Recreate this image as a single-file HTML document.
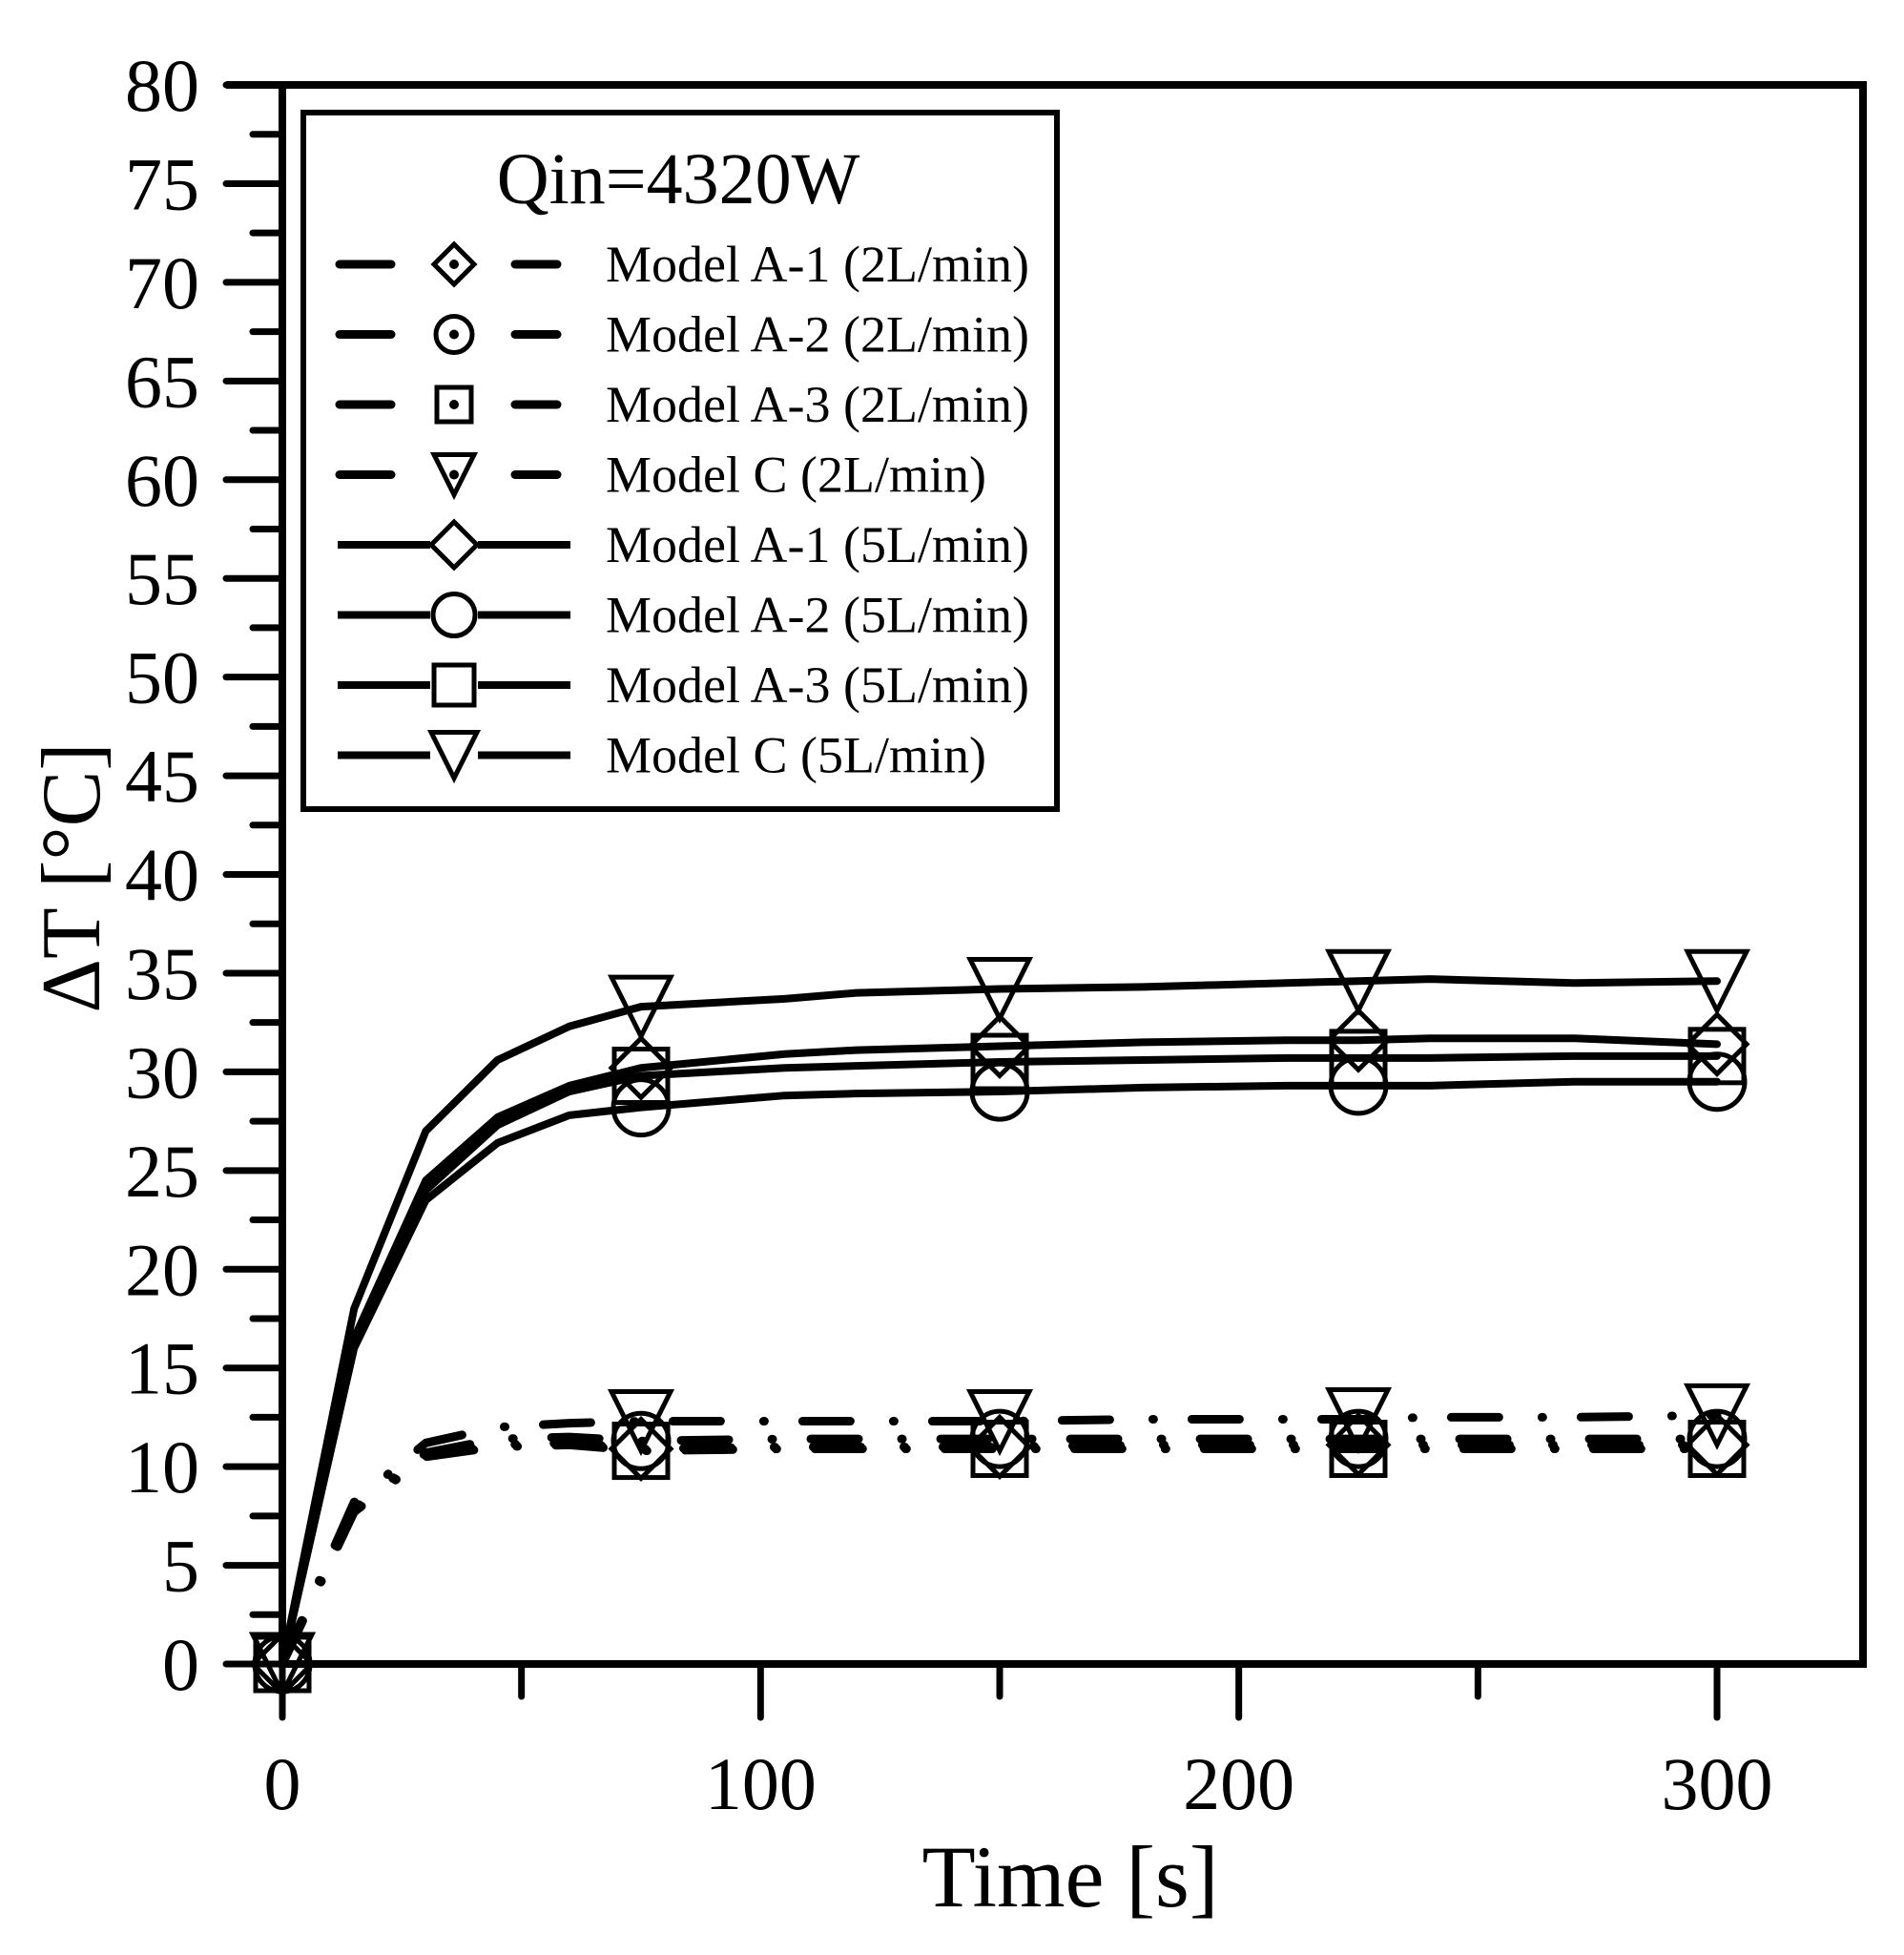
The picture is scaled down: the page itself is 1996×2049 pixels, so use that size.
<!DOCTYPE html>
<html><head><meta charset="utf-8"><style>
html,body{margin:0;padding:0;background:#fff;}
svg{display:block;font-family:"Liberation Serif",serif;}
</style></head><body>
<svg id="chart" width="1996" height="2049" viewBox="0 0 1996 2049" xmlns="http://www.w3.org/2000/svg">
<g id="axes"></g>
<g id="series"></g>
<g id="legend"></g>
<text x="1122" y="1998" font-size="92" text-anchor="middle">Time [s]</text>
<text transform="translate(104,920) rotate(-90)" font-size="88" text-anchor="middle">ΔT [°C]</text>
</svg>
<script>
const times=[0,15,30,45,60,75,105,120,150,180,210,225,240,270,300];
const c5=[0,18,27,30.6,32.3,33.3,33.7,34,34.2,34.3,34.5,34.6,34.7,34.5,34.6];
const a1_5=[0,16.5,24.5,27.7,29.3,30.2,30.9,31.1,31.3,31.5,31.6,31.6,31.7,31.7,31.4];
const a3_5=[0,16.2,24,27.3,29,29.8,30.2,30.3,30.5,30.6,30.7,30.7,30.7,30.8,30.8];
const a2_5=[0,16,23.5,26.4,27.8,28.2,28.8,28.9,29.0,29.2,29.3,29.3,29.3,29.5,29.5];
const c2=[0,8.2,11.2,12.0,12.2,12.3,12.3,12.3,12.3,12.4,12.4,12.4,12.5,12.5,12.6];
const a1_2=[0,7.8,10.6,11.1,11.2,10.9,11.0,11.0,11.0,11.1,11.1,11.1,11.1,11.1,11.1];
const a2_2=[0,7.9,10.7,11.4,11.5,11.3,11.4,11.4,11.4,11.4,11.4,11.4,11.4,11.4,11.4];
const a3_2=[0,7.7,10.5,11.0,11.1,10.8,10.9,10.9,10.9,10.9,10.9,10.9,10.9,10.9,10.9];
const markerTimes=[0,75,150,225,300];
const yTicks=[0,5,10,15,20,25,30,35,40,45,50,55,60,65,70,75,80];
const xTicks=[0,100,200,300];
const NS="http://www.w3.org/2000/svg";
const X=t=>296+t*(1800-296)/300;
const Y=v=>1744-v*(1744-89)/80;
function mk(tag,attrs,parent){const e=document.createElementNS(NS,tag);for(const k in attrs)e.setAttribute(k,attrs[k]);parent.appendChild(e);return e;}
const axes=document.getElementById('axes');
let f=mk('path',{d:`M237 ${Y(80)} H1953 V1744 H296 V${Y(80)}`,fill:'none',stroke:'#000','stroke-width':8},axes);

for(let v=0;v<=80;v+=2.5){const major=v%5===0;
 const t=mk('line',{x1:major?237:265,x2:296,y1:Y(v),y2:Y(v),stroke:'#000','stroke-width':7,'stroke-linecap':'round'},axes);
 }
yTicks.forEach(v=>{const t=mk('text',{x:209,y:Y(v)+27,'font-size':78,'text-anchor':'end'},axes);t.textContent=v;
 });
for(let v=0;v<=300;v+=50){const major=v%100===0;
 const t=mk('line',{x1:X(v),x2:X(v),y1:1744,y2:major?1800:1778,stroke:'#000','stroke-width':7,'stroke-linecap':'round'},axes);
 }
xTicks.forEach(v=>{const t=mk('text',{x:X(v),y:1896,'font-size':78,'text-anchor':'middle'},axes);t.textContent=v;
 });
function marker(type,cx,cy,dot,parent,s){s=s||25;let g=mk('g',{fill:'none',stroke:'#000','stroke-width':5},parent);
 if(type==='tri')mk('path',{d:`M${cx-s} ${cy-s} H${cx+s} L${cx} ${cy+s} Z`},g);
 if(type==='sq')mk('rect',{x:cx-s+3,y:cy-s+3,width:2*s-6,height:2*s-6},g);
 if(type==='ci')mk('circle',{cx:cx,cy:cy,r:s-2},g);
 if(type==='di')mk('path',{d:`M${cx} ${cy-s} L${cx+s} ${cy} L${cx} ${cy+s} L${cx-s} ${cy} Z`},g);
 if(dot)mk('circle',{cx:cx,cy:cy,r:5,fill:'#000',stroke:'none'},g);return g;}
const seriesList=[
 {n:'model-a1-2l',v:a1_2,m:'di',dash:true},{n:'model-a2-2l',v:a2_2,m:'ci',dash:true},
 {n:'model-a3-2l',v:a3_2,m:'sq',dash:true},{n:'model-c-2l',v:c2,m:'tri',dash:true},
 {n:'model-a1-5l',v:a1_5,m:'di',dash:false},{n:'model-a2-5l',v:a2_5,m:'ci',dash:false},
 {n:'model-a3-5l',v:a3_5,m:'sq',dash:false},{n:'model-c-5l',v:c5,m:'tri',dash:false}];
const sg=document.getElementById('series');
seriesList.forEach(s=>{const g=mk('g',{},sg);
 
 const d=s.v.map((v,i)=>(i?'L':'M')+X(times[i])+' '+Y(v)).join(' ');
 const p=mk('path',{d:d,fill:'none',stroke:'#000','stroke-width':s.dash?9:8,'stroke-linecap':'round','stroke-linejoin':'round'},g);
 if(s.dash)p.setAttribute('stroke-dasharray','50 45 1 40');
 
 markerTimes.forEach(t=>{const i=times.indexOf(t);const m=marker(s.m,X(t),Y(s.v[i]),false,g,31);
  });});
const lg=document.getElementById('legend');
let b=mk('rect',{x:318,y:118,width:790,height:730,fill:'#fff',stroke:'#000','stroke-width':6},lg);

let tt=mk('text',{x:711,y:213,'font-size':76,'text-anchor':'middle'},lg);tt.textContent='Qin=4320W';

const labels=['Model A-1 (2L/min)','Model A-2 (2L/min)','Model A-3 (2L/min)','Model C (2L/min)','Model A-1 (5L/min)','Model A-2 (5L/min)','Model A-3 (5L/min)','Model C (5L/min)'];
seriesList.forEach((s,i)=>{const y=277+i*73.5;const g=mk('g',{},lg);
 
 if(s.dash){mk('line',{x1:356,x2:410,y1:y,y2:y,stroke:'#000','stroke-width':9,'stroke-linecap':'round'},g);
  mk('line',{x1:540,x2:584,y1:y,y2:y,stroke:'#000','stroke-width':9,'stroke-linecap':'round'},g);}
 else mk('line',{x1:354,x2:598,y1:y,y2:y,stroke:'#000','stroke-width':8},g);
 if(!s.dash)mk('rect',{x:451,y:y-22,width:50,height:44,fill:'#fff'},g);
 marker(s.m,476,y,s.dash,g,s.dash?21:24);
 const t=mk('text',{x:635,y:y+18,'font-size':54},g);t.textContent=labels[i];});
</script>
</body></html>
